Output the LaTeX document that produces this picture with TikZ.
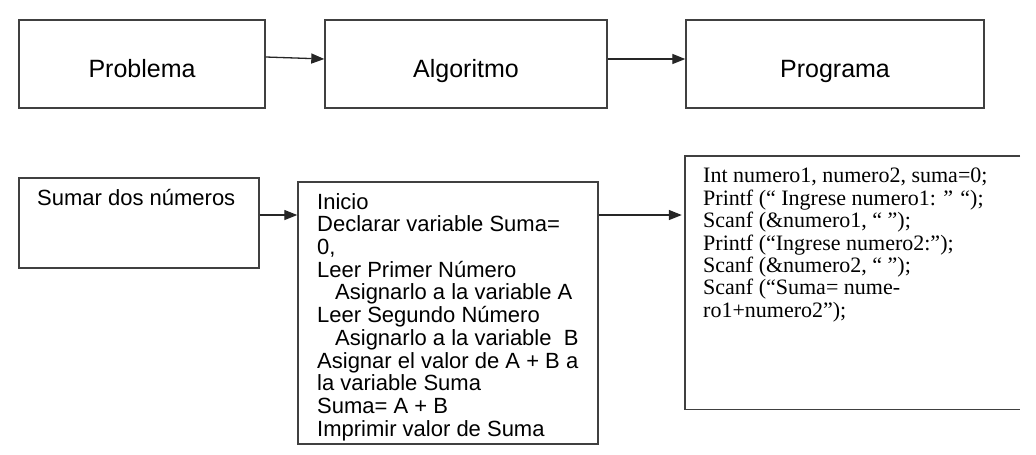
\documentclass[tikz,border=0pt]{standalone}
\usepackage{fontspec}
\setmainfont{Liberation Sans}
\newfontfamily\codefont{Liberation Serif}
\usetikzlibrary{arrows.meta, positioning}

\tikzset{
  caja/.style={draw=black!75, line width=1.4pt, inner sep=0pt},
  titulo/.style={caja, minimum height=88, text height=30pt, text depth=4pt, font=\fontsize{25}{30}\selectfont},
  flecha/.style={-{Triangle[length=13pt,width=10pt]}, draw=black!85, line width=1.3pt},
  texto/.style={inner sep=0pt, align=left, anchor=north west, font=\fontsize{22}{22.7}\selectfont},
}

\begin{document}
\begin{tikzpicture}[x=1pt, y=-1pt]
    \useasboundingbox (0,0) rectangle (1036,455);

    % fila de arriba
    \node[titulo, minimum width=246] (problema) at (142,64) {Problema};
    \node[titulo, minimum width=282] (algoritmo) at (466,64) {Algoritmo};
    \node[titulo, minimum width=298] (programa) at (835,64) {Programa};

    \draw[flecha] ([yshift=7pt]problema.east) -- ([yshift=5pt]algoritmo.west);
    \draw[flecha] ([yshift=5pt]algoritmo.east) -- ([yshift=5pt]programa.west);

    % fila de abajo
    \node[caja, minimum width=240, minimum height=90] (sumar) at (139,223) {};
    \node[caja, minimum width=300, minimum height=262] (pasos) at (448,313) {};
    \node[inner sep=0pt, minimum width=335, minimum height=253] (codigo) at (852.5,282.5) {};
    \draw[caja] (codigo.north east) -- (codigo.north west) -- (codigo.south west) -- (codigo.south east);

    \coordinate (s1) at ([yshift=8pt]sumar.east);
    \draw[flecha] (s1) -- (s1 -| pasos.west);
    \draw[flecha, shorten >=3pt] (s1 -| pasos.east) -- (s1 -| codigo.west);

    % textos
    \node[texto] (sumartxt) at (37,189) {Sumar dos números};
    \node[texto] (pasostxt) at (317,193) {Inicio\\
      Declarar variable Suma=\\
      0,\\
      Leer Primer Número\\
      \hspace*{18pt}Asignarlo a la variable A\\
      Leer Segundo Número\\
      \hspace*{18pt}Asignarlo a la variable\ \ B\\
      Asignar el valor de A + B a\\
      la variable Suma\\
      Suma= A + B\\
      Imprimir valor de Suma};
    \node[texto, font=\codefont\fontsize{22}{22.4}\selectfont] (codigotxt) at (703,168) {Int numero1, numero2, suma=0;\\
      Printf (“ Ingrese numero1: ” “);\\
      Scanf (\&numero1, “ ”);\\
      Printf (“Ingrese numero2:”);\\
      Scanf (\&numero2, “ ”);\\
      Scanf (“Suma= nume-\\
      ro1+numero2”);};
\end{tikzpicture}
\end{document}
